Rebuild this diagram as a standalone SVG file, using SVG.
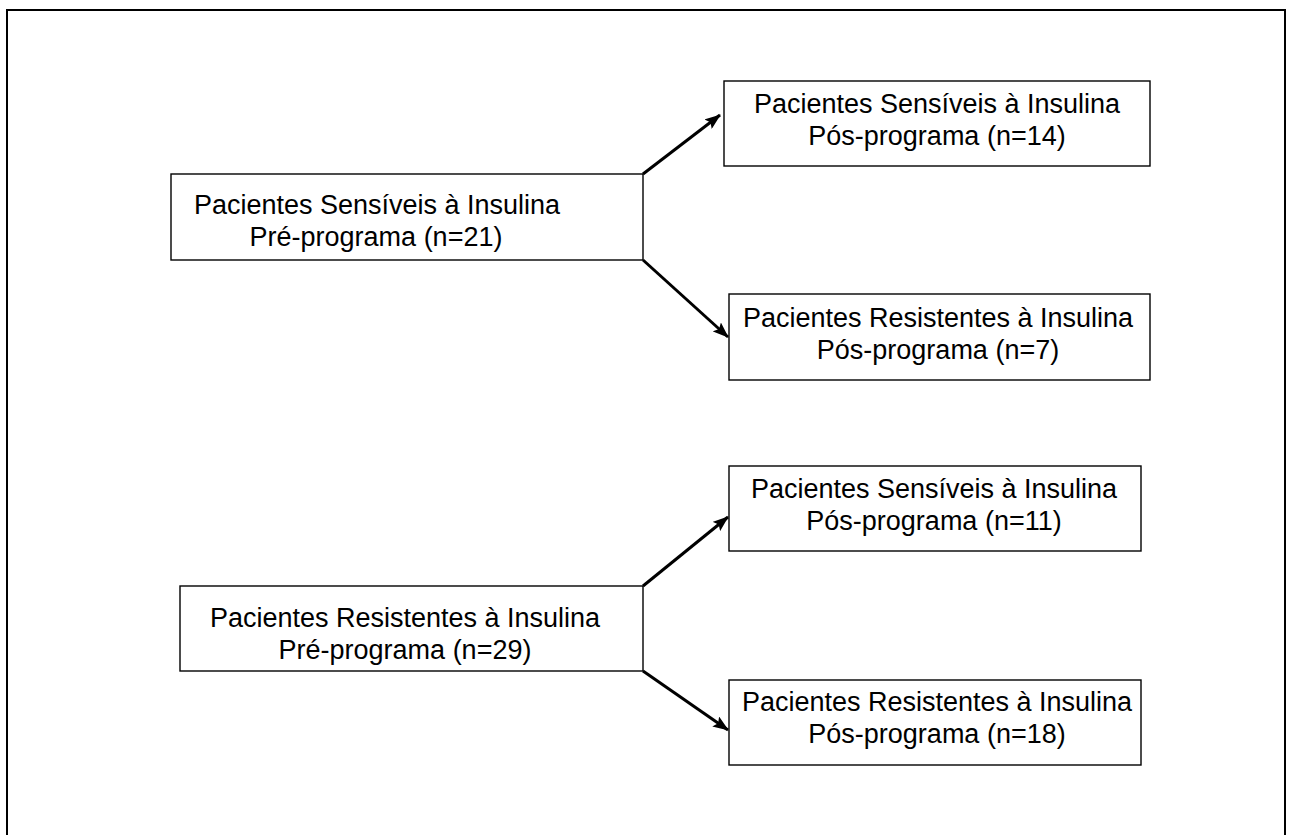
<svg xmlns="http://www.w3.org/2000/svg" width="1292" height="835" viewBox="0 0 1292 835">
  <style>
    .box { fill: #ffffff; stroke: #000000; stroke-width: 1.4; }
    .label { font-family: "Liberation Sans", Arial, sans-serif; font-size: 27px; fill: #000000; text-anchor: middle; }
    .link { stroke: #000000; stroke-width: 3; fill: none; marker-end: url(#arrow); }
  </style>
  <defs>
    <marker id="arrow" markerUnits="userSpaceOnUse" markerWidth="16" markerHeight="12" viewBox="0 0 16 12" refX="15" refY="6" orient="auto">
      <path d="M0,0 L16,6 L0,12 L3,6 Z" fill="#000000"/>
    </marker>
  </defs>

  <rect width="1292" height="835" fill="#ffffff"/>
  <!-- page frame -->
  <rect x="7" y="10" width="1278" height="840" fill="none" stroke="#000000" stroke-width="2"/>

  <!-- connectors -->
  <g id="connectors">
    <line class="link" x1="643" y1="174" x2="720" y2="115"/>
    <line class="link" x1="643" y1="260" x2="728" y2="337"/>
    <line class="link" x1="643" y1="586" x2="728" y2="517"/>
    <line class="link" x1="643" y1="671" x2="728" y2="730"/>
  </g>

  <g id="pre-sensiveis">
    <rect class="box" x="171" y="174" width="472" height="86"/>
    <text class="label" x="377" y="214">Pacientes Sensíveis à Insulina</text>
    <text class="label" x="376" y="246">Pré-programa (n=21)</text>
  </g>

  <g id="pos-sensiveis-14">
    <rect class="box" x="724" y="81" width="426" height="85"/>
    <text class="label" x="937" y="113">Pacientes Sensíveis à Insulina</text>
    <text class="label" x="937" y="145">Pós-programa (n=14)</text>
  </g>

  <g id="pos-resistentes-7">
    <rect class="box" x="729" y="294" width="421" height="86"/>
    <text class="label" x="938" y="327">Pacientes Resistentes à Insulina</text>
    <text class="label" x="938" y="359">Pós-programa (n=7)</text>
  </g>

  <g id="pre-resistentes">
    <rect class="box" x="180" y="586" width="463" height="85"/>
    <text class="label" x="405" y="627">Pacientes Resistentes à Insulina</text>
    <text class="label" x="405" y="659">Pré-programa (n=29)</text>
  </g>

  <g id="pos-sensiveis-11">
    <rect class="box" x="729" y="466" width="412" height="85"/>
    <text class="label" x="934" y="498">Pacientes Sensíveis à Insulina</text>
    <text class="label" x="934" y="530">Pós-programa (n=11)</text>
  </g>

  <g id="pos-resistentes-18">
    <rect class="box" x="729" y="680" width="412" height="85"/>
    <text class="label" x="937" y="711">Pacientes Resistentes à Insulina</text>
    <text class="label" x="937" y="743">Pós-programa (n=18)</text>
  </g>
</svg>
